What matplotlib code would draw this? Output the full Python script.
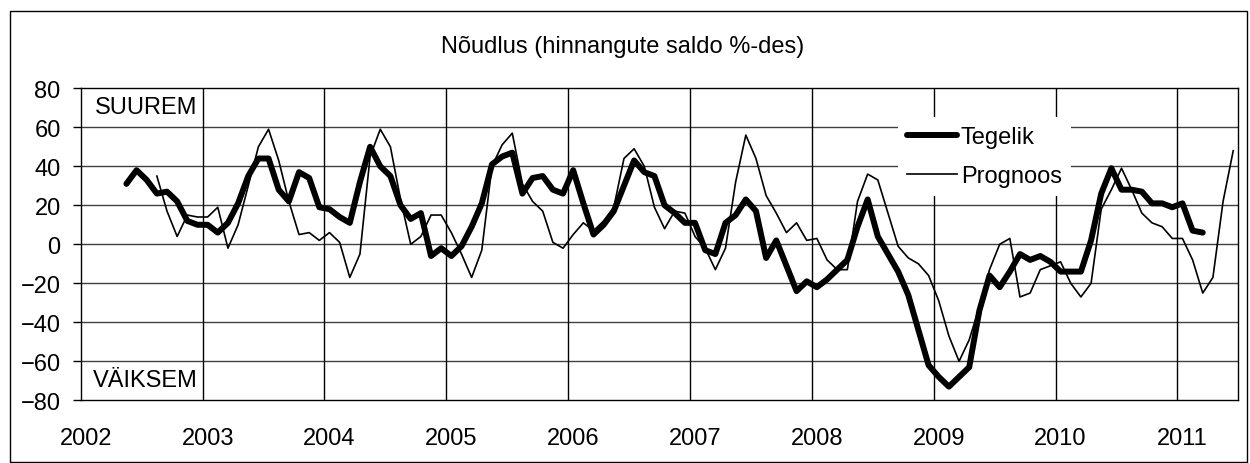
"""
Noudlus chart: actual vs forecast balance of answers
"""

import numpy as np
import matplotlib
matplotlib.use('Agg')
import matplotlib.pyplot as plt
from matplotlib.patches import Rectangle

# monthly data, category axis runs from Jan 2002 to Jun 2011
first_month = '2002-01'
n_months = 114
years = ['2002', '2003', '2004', '2005', '2006', '2007', '2008', '2009', '2010', '2011']

# Tegelik starts May 2002
tegelik_start = 4
tegelik = [31, 38, 33, 26, 27, 22, 12, 10, 10, 6, 11, 21, 35, 44, 44, 28,
           22, 37, 34, 19, 18, 14, 11, 32, 50, 40, 35, 20, 13, 16, -6, -2,
           -6, -1, 9, 21, 41, 45, 47, 26, 34, 35, 28, 26, 38, 21, 5, 10,
           17, 30, 43, 37, 35, 20, 16, 11, 11, -3, -5, 11, 15, 23, 17, -7,
           2, -11, -24, -19, -22, -18, -13, -8, 9, 23, 4, -5, -14, -26, -44, -62,
           -68, -73, -68, -63, -34, -16, -22, -14, -5, -8, -6, -9, -14, -14, -14, 2,
           26, 39, 28, 28, 27, 21, 21, 19, 21, 7, 6]

# Prognoos starts Aug 2002
prognoos_start = 7
prognoos = [35, 17, 4, 15, 14, 14, 19, -2, 10, 30, 50, 59, 43, 22, 5, 6,
            2, 6, 1, -17, -5, 45, 59, 50, 23, 0, 4, 15, 15, 6, -5, -17,
            -3, 40, 51, 57, 31, 22, 17, 1, -2, 5, 11, 7, 12, 19, 44, 49,
            40, 19, 8, 17, 16, 4, -2, -13, -2, 32, 56, 44, 25, 16, 6, 11,
            2, 3, -8, -13, -13, 22, 36, 33, 16, -1, -7, -10, -16, -29, -47, -60,
            -49, -32, -13, 0, 3, -27, -25, -13, -11, -9, -20, -27, -20, 18, 28, 39,
            28, 16, 11, 9, 3, 3, -8, -25, -17, 22, 48]

W, H = 1250, 464
font = ['Liberation Sans', 'DejaVu Sans']
fs = 17

plt.rcParams['font.family'] = font

fig = plt.figure(figsize=(W / 100, H / 100), dpi=100)
ax = fig.add_axes([80.7 / W, 1 - 401.3 / H, (1238.3 - 80.7) / W, (401.3 - 89.3) / H])

# outer chart border
fig.patches.append(Rectangle((10 / W, 1 / H), 1237 / W, 1 - 13 / H, transform=fig.transFigure,
                             fill=False, edgecolor='black', linewidth=1.0))

x_teg = np.arange(tegelik_start, tegelik_start + len(tegelik))
x_pro = np.arange(prognoos_start, prognoos_start + len(prognoos))

ax.plot(x_teg, tegelik, color='black', linewidth=4.3, solid_joinstyle='round',
        solid_capstyle='round', label='Tegelik', zorder=3)
ax.plot(x_pro, prognoos, color='black', linewidth=1.2, label='Prognoos', zorder=3)

ax.set_xlim(-0.5, n_months - 0.5)
ax.set_ylim(-80, 80)

# grid lines
for v in range(-60, 80, 20):
    ax.axhline(v, color='#404040', linewidth=1.0, zorder=1)
for k in range(1, len(years)):
    ax.axvline(-0.5 + 12 * k, color='black', linewidth=1.0, zorder=1)

ax.set_yticks(range(-80, 81, 20))
ax.set_xticks(np.arange(0, 12 * len(years), 12))
ax.set_xticklabels(years)
ax.tick_params(axis='y', direction='out', length=5.8, width=1.0, pad=8.6, labelsize=fs)
ax.tick_params(axis='x', length=0, pad=19, labelsize=fs)
for s in ax.spines.values():
    s.set_linewidth(1.0)
    s.set_color('black')

ax.text(0.9, 70.4, 'SUUREM', fontsize=fs, ha='left', va='center')
ax.text(0.7, -69.6, 'VÄIKSEM', fontsize=fs, ha='left', va='center')

fig.text(623 / W, 1 - 47 / H, 'Nõudlus (hinnangute saldo %-des)', fontsize=fs,
         ha='center', va='center')

leg = ax.legend(loc='upper left', bbox_to_anchor=(0.7057, 0.908), fontsize=fs,
                frameon=True, fancybox=False, borderaxespad=0, borderpad=0.4,
                handlelength=2.1, handletextpad=0.17, labelspacing=0.7)
leg.get_frame().set_facecolor('white')
leg.get_frame().set_edgecolor('none')
leg.get_frame().set_alpha(1)
leg.set_zorder(5)

fig.savefig('out.png', dpi=100)
